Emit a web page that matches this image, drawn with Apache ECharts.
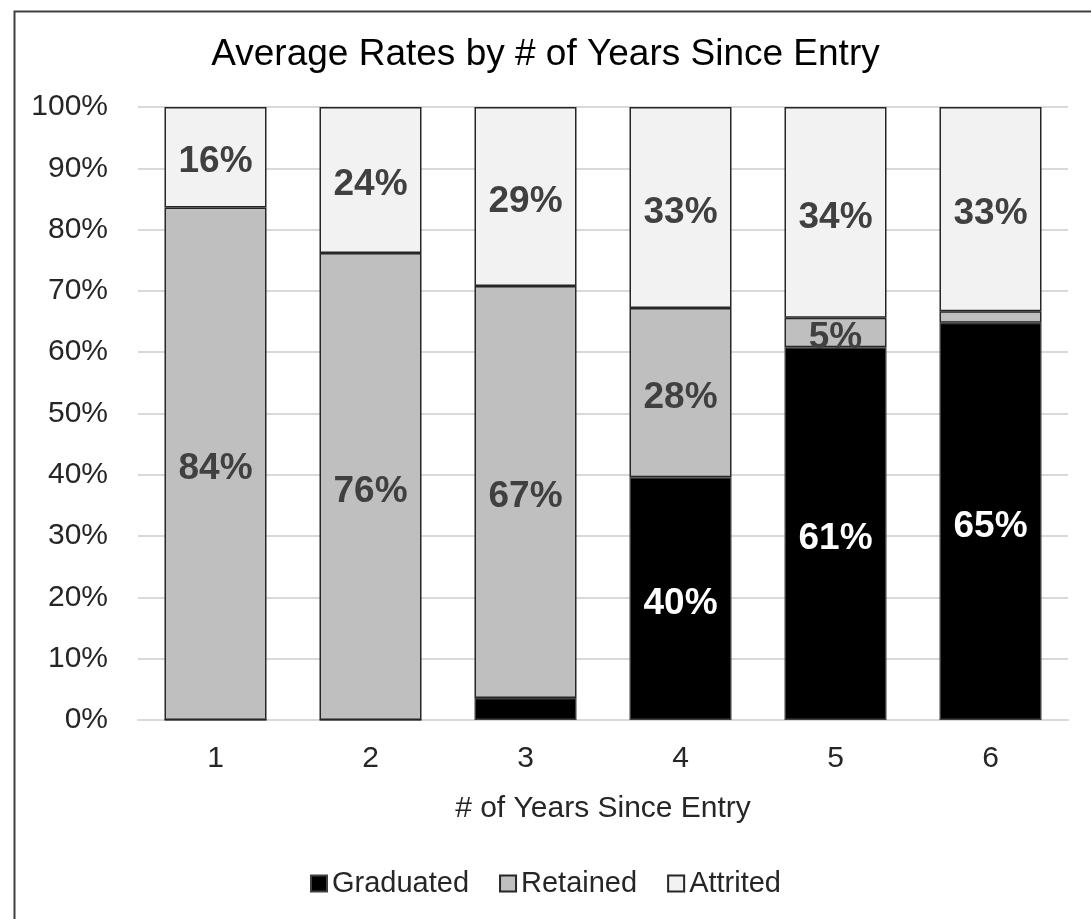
<!DOCTYPE html>
<html>
<head>
<meta charset="utf-8">
<script src="https://cdn.jsdelivr.net/npm/echarts@6/dist/echarts.min.js"></script>
<style>html,body{margin:0;padding:0;background:#fff}#c{width:1091px;height:919px}</style>
</head>
<body>
<div id="c"></div>
<script>
const categories = ['1', '2', '3', '4', '5', '6'];
const graduated = [0, 0, 3.6, 39.6, 60.8, 64.8];
const retained = [83.6, 76.2, 67.2, 27.6, 4.8, 1.9];
const attrited = [16.4, 23.8, 29.2, 32.8, 34.4, 33.3];
const yTicks = [0, 10, 20, 30, 40, 50, 60, 70, 80, 90, 100];

const FONT = '"Liberation Sans", Arial, sans-serif';
const chart = echarts.init(document.getElementById('c'), null, {renderer: 'canvas'});

function lbl(color) {
  return {
    show: true,
    position: 'inside',
    offset: [0, 5],
    color: color,
    fontFamily: FONT,
    fontWeight: 'bold',
    fontSize: 37,
    formatter: p => (p.value >= 4 ? Math.round(p.value) + '%' : '')
  };
}

const common = {
  type: 'bar', stack: 'total', barWidth: 102,
};

chart.setOption({
  animation: false,
  backgroundColor: '#fff',
  graphic: [{
    type: 'rect', left: 12, top: 9,
    shape: {width: 1100, height: 1000},
    style: {fill: 'none', stroke: '#404040', lineWidth: 2}
  }],
  title: {
    text: 'Average Rates by # of Years Since Entry',
    left: 'center', top: 31,
    textStyle: {fontFamily: FONT, fontSize: 37, fontWeight: 'normal', color: '#000'}
  },
  legend: {
    top: 864, left: 'center',
    itemWidth: 16, itemHeight: 16, itemGap: 30,
    icon: 'rect',
    textStyle: {fontFamily: FONT, fontSize: 29, color: '#262626'},
    data: ['Graduated', 'Retained', 'Attrited']
  },
  grid: {left: 138, right: 23, top: 107, bottom: 199},
  xAxis: {
    type: 'category', data: categories,
    name: '# of Years Since Entry', nameLocation: 'middle', nameGap: 74,
    nameTextStyle: {fontFamily: FONT, fontSize: 30, color: '#262626'},
    axisTick: {show: false},
    axisLine: {lineStyle: {color: '#d9d9d9', width: 2}},
    axisLabel: {fontFamily: FONT, fontSize: 30, color: '#262626', margin: 24}
  },
  yAxis: {
    type: 'value', min: yTicks[0], max: yTicks[yTicks.length - 1], interval: 10,
    axisLabel: {fontFamily: FONT, fontSize: 30, color: '#262626', margin: 30, formatter: v => v + '%'},
    splitLine: {lineStyle: {color: '#d9d9d9', width: 2}},
    axisLine: {show: false}, axisTick: {show: false}
  },
  series: [
    Object.assign({}, common, {
      name: 'Graduated', data: graduated,
      itemStyle: {color: '#000000', borderColor: '#404040', borderWidth: 1.5},
      label: lbl('#ffffff')
    }),
    Object.assign({}, common, {
      name: 'Retained', data: retained,
      itemStyle: {color: '#bfbfbf', borderColor: '#262626', borderWidth: 1.5},
      label: lbl('#404040')
    }),
    Object.assign({}, common, {
      name: 'Attrited', data: attrited,
      itemStyle: {color: '#f2f2f2', borderColor: '#262626', borderWidth: 1.5},
      label: lbl('#404040')
    })
  ]
});
</script>
</body>
</html>
